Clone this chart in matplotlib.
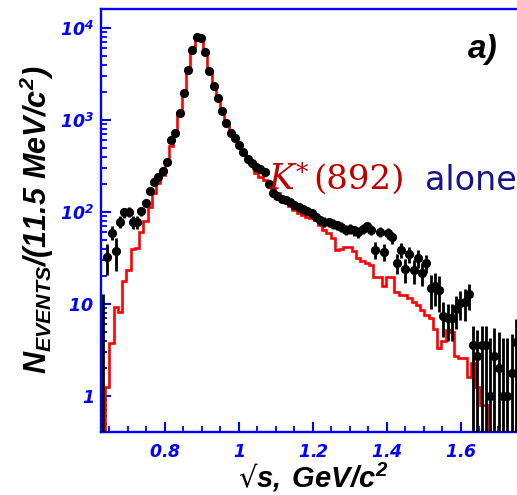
import numpy as np
import matplotlib
matplotlib.use("Agg")
import matplotlib.pyplot as plt
from matplotlib.ticker import FixedLocator, FixedFormatter, LogLocator, NullFormatter, MultipleLocator

plt.rcParams['mathtext.fontset'] = 'custom'
plt.rcParams['mathtext.rm'] = 'Liberation Sans:italic:bold'
plt.rcParams['mathtext.it'] = 'Liberation Sans:italic:bold'
plt.rcParams['mathtext.bf'] = 'Liberation Sans:italic:bold'
plt.rcParams['mathtext.sf'] = 'DejaVu Sans'
plt.rcParams['mathtext.bfit'] = 'DejaVu Sans:italic:bold'

# ---------------- data ----------------
bin_width = 0.0115          # GeV (11.5 MeV)
first_center = 0.6325       # GeV

counts = [0.3, 32.7, 59.6, 37.7, 78.5, 99, 100, 78, 78, 102,
          124, 170, 213, 240, 282, 347, 606, 728, 1183, 1980,
          3495, 5770, 7930, 7730, 5525, 3435, 2340, 1722, 1262, 935,
          728, 632, 535, 452, 374, 345, 305, 290, 272, 200,
          160, 150, 140, 134, 128, 118, 112, 107, 103, 97,
          88, 82, 78.5, 77, 74, 72, 69, 64, 66, 63,
          60, 66, 70, 64, 39, 61, 37, 59, 53, 28,
          38.6, 24, 35, 23.4, 31.4, 21.6, 27.7, 14.8, 15.5, 14.2,
          7.4, 7.0, 7.0, 8.8, 10.2, 10.6, 12.7, 3.6, 2.7, 3.6,
          3.6, 1.0, 2.7, 2.0, 1.0, 1.0, 1.77, 3.9]

err_hi = [12.7, 12, 10, 15, 12, 12, 12, 12, 12, 12,
          12, 13, 14, 15, 16, 18, 25, 27, 35, 45,
          60, 75, 90, 90, 75, 60, 50, 42, 36, 31,
          28, 26, 24, 22, 20, 19, 18, 17, 17, 15,
          13, 13, 12, 12, 12, 11, 11, 11, 10, 10,
          9, 9, 9, 9, 9, 8, 8, 8, 8, 8,
          8, 8, 8, 8, 8, 8, 8, 8, 8, 7,
          7, 7, 7, 7, 7, 6, 6, 6, 6, 6,
          3, 3, 3, 3.5, 3.5, 4, 4, 2.2, 2.5, 2.2,
          2.2, 3.3, 2.8, 3.0, 3.3, 3.3, 3.0, 3.0]

err_lo = [0, 12, 10, 15, 12, 12, 12, 12, 12, 12,
          12, 13, 14, 15, 16, 18, 25, 27, 35, 45,
          60, 75, 90, 90, 75, 60, 50, 42, 36, 31,
          28, 26, 24, 22, 20, 19, 18, 17, 17, 15,
          13, 13, 12, 12, 12, 11, 11, 11, 10, 10,
          9, 9, 9, 9, 9, 8, 8, 8, 8, 8,
          8, 8, 8, 8, 8, 8, 8, 8, 8, 7,
          7, 7, 7, 7, 7, 6, 6, 6, 6, 6,
          3, 3, 3, 3.5, 3.5, 4, 4, 3.6, 2.7, 3.6,
          3.6, 1.0, 2.7, 2.0, 1.0, 1.0, 1.77, 3.9]

# K*(892) alone histogram (bins 1..90)
kstar_alone = [1.25, 3.8, 9.3, 8.1, 17.8, 23.4, 40, 41, 61, 80,
               114, 160, 205, 250, 330, 520, 750, 1150, 1950, 3400,
               5700, 7900, 7700, 5500, 3400, 2300, 1700, 1250, 920, 720,
               620, 520, 440, 365, 330, 263, 240, 225, 205, 175,
               160, 140, 130, 115, 105, 97, 93, 89, 86, 82,
               72, 64, 59, 52, 39, 40, 42, 42, 38, 31.4,
               29, 27.7, 26.5, 19.8, 19.8, 15.5, 19.8, 19.5, 13.6, 12.5,
               12.5, 11.5, 10.5, 9.8, 8.5, 7.6, 7.0, 5.3, 3.3, 4.0,
               5.2, 5.0, 2.7, 2.6, 2.6, 1.6, 2.26, 1.26, 0.8, 0.8]

xtick_vals = [0.8, 1.0, 1.2, 1.4, 1.6]
xtick_labels = ['0.8', '1', '1.2', '1.4', '1.6']
ytick_vals = [1, 10, 100, 1000, 10000]
ytick_labels = [r'$\mathbfit{1}$', r'$\mathbfit{10}$', r'$\mathbfit{10}^{\mathbfit{2}}$',
                r'$\mathbfit{10}^{\mathbfit{3}}$', r'$\mathbfit{10}^{\mathbfit{4}}$']

# ---------------- figure ----------------
W, H = 517, 495
fig = plt.figure(figsize=(W / 100, H / 100), dpi=100)
ax = fig.add_axes([101 / W, (H - 432) / H, 419 / W, 423 / H])

centers = first_center + bin_width * np.arange(len(counts))
edges = first_center + bin_width * (np.arange(len(kstar_alone) + 1) + 0.5)

ax.set_yscale('log', nonpositive='clip')
ax.stairs(kstar_alone, edges, baseline=0, color='#ff0000', linewidth=1.9, zorder=2)
ax.errorbar(centers, counts, yerr=[err_lo, err_hi], fmt='o', color='black',
            markersize=5.6, elinewidth=2.0, capsize=0, zorder=3)

ax.set_xlim(0.62703, 1.75946)
ax.set_ylim(0.406, 16100)

blue = '#0000ff'
for s in ax.spines.values():
    s.set_color(blue)
    s.set_linewidth(1.7)

ax.xaxis.set_major_locator(FixedLocator(xtick_vals))
ax.xaxis.set_major_formatter(FixedFormatter([r'$\mathbfit{%s}$' % t for t in xtick_labels]))
ax.xaxis.set_minor_locator(MultipleLocator(0.05))
ax.yaxis.set_major_locator(FixedLocator(ytick_vals))
ax.yaxis.set_major_formatter(FixedFormatter(ytick_labels))
ax.yaxis.set_minor_locator(LogLocator(base=10, subs=np.arange(2, 10)))
ax.yaxis.set_minor_formatter(NullFormatter())

ax.tick_params(which='both', direction='in', color=blue, labelcolor=blue,
               top=False, right=False, labelsize=12.5)
ax.tick_params(which='major', length=7, width=1.5)
ax.tick_params(which='minor', length=4, width=1.3)
ax.tick_params(axis='x', which='major', pad=8)
ax.tick_params(axis='y', which='major', pad=5)

# axis titles
fig.text(37 / W, 1 - 220 / H, r'$N_{EVENTS}/(11.5\ MeV/c^{2})$', rotation=90,
         ha='center', va='center', fontsize=22, color='black')
fig.text(313 / W, 1 - 488 / H, '$\\mathsf{\u221a}s,$' + '\u2009' + '$GeV/c^{2}$',
         ha='center', va='baseline', fontsize=21, color='black')

# annotations
fig.text(468 / W, 1 - 58 / H, 'a)', fontfamily='Liberation Sans', fontweight='bold',
         fontstyle='italic', fontsize=24, va='baseline', ha='left', color='black')
kcol = '#c00000'
fig.text(269 / W, 1 - 189 / H, 'K', fontfamily='DejaVu Serif', fontstyle='italic',
         fontsize=25, va='baseline', ha='left', color=kcol)
fig.text(296 / W, 1 - 180 / H, '*', fontfamily='DejaVu Serif',
         fontsize=18, va='baseline', ha='left', color=kcol)
fig.text(313 / W, 1 - 189 / H, '(892)', fontfamily='DejaVu Serif',
         fontsize=24.5, va='baseline', ha='left', color=kcol)
fig.text(425 / W, 1 - 190 / H, 'alone', fontfamily='DejaVu Sans',
         fontsize=24, va='baseline', ha='left', color='#14148c')

fig.savefig('out.png', dpi=100)
